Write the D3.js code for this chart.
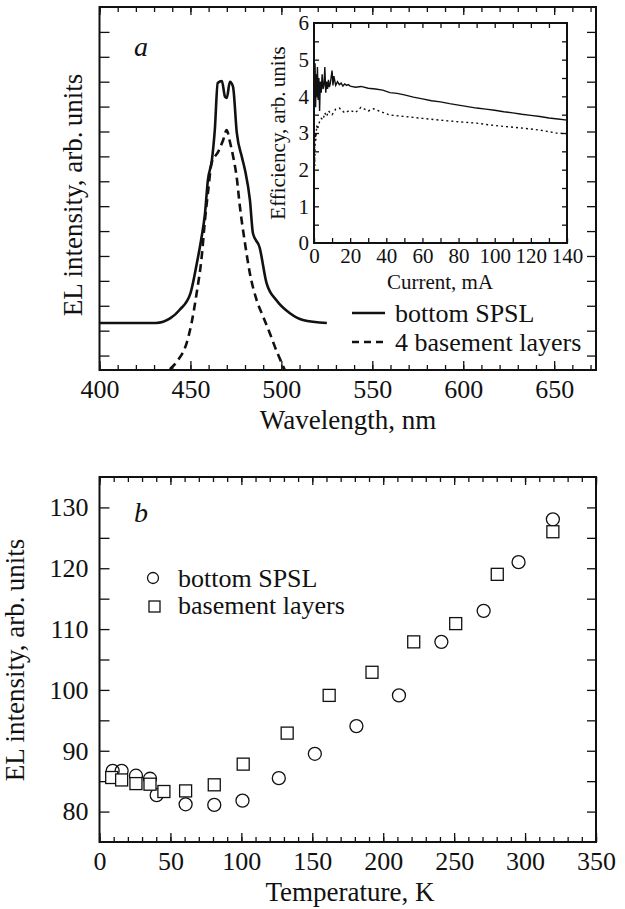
<!DOCTYPE html>
<html>
<head>
<meta charset="utf-8">
<script src="https://cdn.jsdelivr.net/npm/d3@7"></script>
<style>
  body { margin: 0; background: #fff; }
  svg text { font-family: "Liberation Serif", "Times New Roman", serif; fill: #111; }
  .tick line { stroke: #111; stroke-width: 1.3; }
</style>
</head>
<body>
<div id="vis"></div>
<script>
// ---- panel a: EL spectra ----
const wlSolid = [400, 431, 439, 444, 450, 453.5, 456, 458, 459.6, 461.8, 463.4, 465, 467.3, 469, 470, 471.7, 473.4, 475.5, 478.3, 480, 482.7, 484.4, 488, 491.9, 497.5, 504.7, 511.8, 525];
const elSolid = [1.31, 1.31, 1.5, 1.83, 2.5, 3.7, 4.7, 5.7, 7.05, 7.85, 9.06, 10.95, 11.03, 10.4, 10.35, 11.0, 10.8, 8.94, 7.97, 7.45, 6.25, 4.9, 4.35, 2.9, 2.2, 1.7, 1.43, 1.31];
const wlDash = [438.7, 443, 447.9, 450.6, 453.4, 456.2, 458, 459.8, 461.6, 465.3, 468, 469.9, 471.7, 473.5, 475.4, 477.2, 480, 482.7, 486.4, 490, 493.7, 496.4, 501.9];
const elDash = [-0.55, -0.2, 0.5, 1.3, 2.5, 3.97, 5.45, 6.65, 7.72, 8.19, 8.66, 9.06, 8.59, 7.99, 7.18, 5.98, 4.51, 3.3, 2.23, 1.56, 0.89, 0.36, -0.58];
const wlTicks = [400, 450, 500, 550, 600, 650];

// ---- inset: efficiency vs current ----
const curSolid = [0.3, 0.6, 0.9, 1.2, 1.5, 1.9, 2.3, 2.7, 3.1, 3.5, 4.0, 4.5, 5.0, 5.5, 6.0, 6.5, 7.0, 7.5, 8.0, 8.5, 9.0, 10, 10.5, 11, 12, 13, 14, 15, 16, 17, 18, 19, 20, 23, 26, 30, 34, 38, 42, 46, 50, 55, 60, 65, 70, 75, 80, 85, 90, 95, 100, 105, 110, 115, 120, 125, 130, 135, 140];
const effSolid = [4.2, 4.9, 3.7, 4.6, 4.0, 4.8, 3.9, 4.5, 3.6, 4.4, 4.1, 4.6, 4.2, 4.3, 4.8, 4.1, 4.4, 4.2, 4.45, 4.25, 4.35, 4.7, 4.3, 4.55, 4.3, 4.4, 4.32, 4.36, 4.28, 4.34, 4.3, 4.32, 4.28, 4.25, 4.27, 4.22, 4.2, 4.17, 4.1, 4.08, 4.04, 3.98, 3.93, 3.88, 3.85, 3.8, 3.76, 3.72, 3.68, 3.65, 3.62, 3.58, 3.55, 3.51, 3.48, 3.45, 3.41, 3.38, 3.35];
const curDash = [0.3, 0.5, 0.8, 1.0, 1.5, 2.0, 3.0, 4.0, 5.0, 6.0, 7.0, 8.0, 10, 12, 14, 17, 20, 23, 26, 30, 33, 36, 42, 50, 60, 70, 79, 90, 97, 105, 116, 125, 134, 140];
const effDash = [2.1, 2.6, 3.0, 2.8, 3.2, 3.1, 3.3, 3.4, 3.36, 3.55, 3.45, 3.6, 3.5, 3.65, 3.68, 3.55, 3.62, 3.56, 3.7, 3.6, 3.66, 3.6, 3.49, 3.45, 3.4, 3.35, 3.31, 3.27, 3.22, 3.18, 3.13, 3.08, 3.0, 2.98];

// ---- panel b: EL intensity vs temperature ----
const tSpsl = [9.3, 15.6, 25.7, 35.6, 40.3, 60.7, 80.9, 100.8, 126.4, 151.8, 181.1, 211.1, 241, 270.8, 295.4, 319.6];
const iSpsl = [86.7, 86.7, 85.9, 85.4, 82.7, 81.2, 81.1, 81.8, 85.5, 89.5, 94.05, 99.1, 107.9, 113.0, 121.0, 128.05];
const tBase = [8.6, 15.6, 25.7, 35.6, 45.4, 60.7, 80.9, 101.3, 132.3, 161.9, 192.1, 221.5, 251.1, 280.4, 319.6];
const iBase = [85.6, 85.2, 84.6, 84.5, 83.3, 83.4, 84.4, 87.8, 92.9, 99.1, 102.9, 107.9, 110.9, 119.0, 126.0];
const tTicks = [0, 50, 100, 150, 200, 250, 300, 350];
const iTicks = [80, 90, 100, 110, 120, 130];

const FONT = "'Liberation Serif', 'Times New Roman', serif";

const svg = d3.select("#vis").append("svg")
    .attr("width", 625)
    .attr("height", 909)
    .attr("font-family", FONT);

function frame(x0, y0, x1, y1) {
  svg.append("rect")
    .attr("x", x0).attr("y", y0)
    .attr("width", x1 - x0).attr("height", y1 - y0)
    .attr("fill", "none").attr("stroke", "#111").attr("stroke-width", 2);
}

function cleanAxis(g, fs) {
  g.attr("font-family", FONT).attr("font-size", fs);
  g.select(".domain").remove();
  g.selectAll("text").style("font-family", FONT).style("font-size", fs + "px");
}

// ===== panel a =====
const xa = d3.scaleLinear().domain([400, 673]).range([99.5, 596]);
const ya = d3.scaleLinear().domain([-0.58, 14]).range([370, 7]);

svg.append("g").attr("transform", "translate(0,370)")
  .call(d3.axisBottom(xa).tickValues(d3.range(400, 674, 10)).tickSize(-5).tickFormat(""))
  .call(g => cleanAxis(g, 26));
svg.append("g").attr("transform", "translate(0,370)")
  .call(d3.axisBottom(xa).tickValues(wlTicks).tickSizeInner(-9).tickSizeOuter(0).tickPadding(10))
  .call(g => cleanAxis(g, 26));
svg.append("g").attr("transform", "translate(0,7)")
  .call(d3.axisTop(xa).tickValues(d3.range(400, 674, 10)).tickSize(-5).tickFormat(""))
  .call(g => cleanAxis(g, 26));
svg.append("g").attr("transform", "translate(0,7)")
  .call(d3.axisTop(xa).tickValues(wlTicks).tickSize(-8).tickFormat(""))
  .call(g => cleanAxis(g, 26));
svg.append("g").attr("transform", "translate(99.5,0)")
  .call(d3.axisLeft(ya).tickValues(d3.range(0, 14)).tickSize(-10).tickFormat(""))
  .call(g => cleanAxis(g, 26));
svg.append("g").attr("transform", "translate(596,0)")
  .call(d3.axisRight(ya).tickValues(d3.range(0, 14)).tickSize(-9).tickFormat(""))
  .call(g => cleanAxis(g, 26));

svg.append("defs").append("clipPath").attr("id", "clipA")
  .append("rect").attr("x", 99.5).attr("y", 7).attr("width", 496.5).attr("height", 363);

const lineA = d3.line().x(d => xa(d[0])).y(d => ya(d[1])).curve(d3.curveMonotoneX);
svg.append("path")
  .datum(d3.zip(wlSolid, elSolid))
  .attr("d", lineA)
  .attr("fill", "none").attr("stroke", "#111").attr("stroke-width", 2.6);
svg.append("path")
  .datum(d3.zip(wlDash, elDash))
  .attr("clip-path", "url(#clipA)")
  .attr("d", lineA)
  .attr("fill", "none").attr("stroke", "#111").attr("stroke-width", 2.6)
  .attr("stroke-dasharray", "8,5");

frame(99.5, 7, 596, 370);

svg.append("text").attr("x", 134).attr("y", 56)
  .style("font-size", "28px").style("font-style", "italic").text("a");

svg.append("text")
  .attr("transform", "translate(82,195) rotate(-90)")
  .attr("text-anchor", "middle")
  .style("font-size", "27px")
  .text("EL intensity, arb.\u2009units");

svg.append("text").attr("x", 348).attr("y", 429)
  .attr("text-anchor", "middle").style("font-size", "27px")
  .text("Wavelength, nm");

// legend a
svg.append("line").attr("x1", 352).attr("x2", 385).attr("y1", 313).attr("y2", 313)
  .attr("stroke", "#111").attr("stroke-width", 2.6);
svg.append("line").attr("x1", 352).attr("x2", 385).attr("y1", 342).attr("y2", 342)
  .attr("stroke", "#111").attr("stroke-width", 2.6).attr("stroke-dasharray", "7,5");
svg.append("text").attr("x", 395).attr("y", 322).style("font-size", "26px").text("bottom SPSL");
svg.append("text").attr("x", 395).attr("y", 351).style("font-size", "26px").text("4 basement layers");

// ===== inset =====
const xi = d3.scaleLinear().domain([0, 140]).range([314, 567]);
const yi = d3.scaleLinear().domain([0, 6]).range([243, 23]);

svg.append("rect").attr("x", 314).attr("y", 23).attr("width", 253).attr("height", 220).attr("fill", "#fff");

svg.append("g").attr("transform", "translate(0,243)")
  .call(d3.axisBottom(xi).tickValues(d3.range(0, 141, 10)).tickSizeInner(-5).tickSizeOuter(0).tickFormat(""))
  .call(g => cleanAxis(g, 21));
svg.append("g").attr("transform", "translate(0,243)")
  .call(d3.axisBottom(xi).tickValues(d3.range(0, 141, 20)).tickSizeInner(0).tickSizeOuter(0).tickPadding(5))
  .call(g => cleanAxis(g, 21));
svg.append("g").attr("transform", "translate(0,23)")
  .call(d3.axisTop(xi).tickValues(d3.range(10, 140, 10)).tickSize(-5).tickFormat(""))
  .call(g => cleanAxis(g, 21));
svg.append("g").attr("transform", "translate(314,0)")
  .call(d3.axisLeft(yi).tickValues(d3.range(0.5, 6, 0.5)).tickSize(-5).tickFormat(""))
  .call(g => cleanAxis(g, 21));
svg.append("g").attr("transform", "translate(314,0)")
  .call(d3.axisLeft(yi).tickValues(d3.range(0, 7, 1)).tickSize(0).tickPadding(5).tickFormat(d3.format("d")))
  .call(g => cleanAxis(g, 21));
svg.append("g").attr("transform", "translate(567,0)")
  .call(d3.axisRight(yi).tickValues(d3.range(0.5, 6, 0.5)).tickSize(-5).tickFormat(""))
  .call(g => cleanAxis(g, 21));

const lineI = d3.line().x(d => xi(d[0])).y(d => yi(d[1]));
svg.append("path")
  .datum(d3.zip(curSolid, effSolid))
  .attr("d", lineI)
  .attr("fill", "none").attr("stroke", "#111").attr("stroke-width", 1.4);
svg.append("path")
  .datum(d3.zip(curDash, effDash))
  .attr("d", lineI)
  .attr("fill", "none").attr("stroke", "#111").attr("stroke-width", 1.4)
  .attr("stroke-dasharray", "2,3");
svg.append("line").attr("x1", xi(0.3)).attr("x2", xi(0.3)).attr("y1", yi(2.1)).attr("y2", yi(3.0))
  .attr("stroke", "#111").attr("stroke-width", 1.5).attr("stroke-dasharray", "2,1.5");

frame(314, 23, 567, 243);

svg.append("text")
  .attr("transform", "translate(285,133) rotate(-90)")
  .attr("text-anchor", "middle").style("font-size", "21px")
  .text("Efficiency, arb.\u2009units");
svg.append("text").attr("x", 440).attr("y", 289)
  .attr("text-anchor", "middle").style("font-size", "21px")
  .text("Current, mA");

// ===== panel b =====
const xb = d3.scaleLinear().domain([0, 350]).range([99.5, 596]);
const yb = d3.scaleLinear().domain([75, 135]).range([842, 477]);

svg.append("g").attr("transform", "translate(0,842)")
  .call(d3.axisBottom(xb).tickValues(d3.range(0, 351, 10)).tickSize(-5).tickFormat(""))
  .call(g => cleanAxis(g, 26));
svg.append("g").attr("transform", "translate(0,842)")
  .call(d3.axisBottom(xb).tickValues(tTicks).tickSizeInner(-9).tickSizeOuter(0).tickPadding(10))
  .call(g => cleanAxis(g, 26));
svg.append("g").attr("transform", "translate(0,477)")
  .call(d3.axisTop(xb).tickValues(d3.range(0, 351, 10)).tickSize(-5).tickFormat(""))
  .call(g => cleanAxis(g, 26));
svg.append("g").attr("transform", "translate(0,477)")
  .call(d3.axisTop(xb).tickValues(tTicks).tickSize(-8).tickFormat(""))
  .call(g => cleanAxis(g, 26));
svg.append("g").attr("transform", "translate(99.5,0)")
  .call(d3.axisLeft(yb).tickValues(d3.range(80, 135, 5)).tickSize(-10).tickFormat(""))
  .call(g => cleanAxis(g, 26));
svg.append("g").attr("transform", "translate(99.5,0)")
  .call(d3.axisLeft(yb).tickValues(iTicks).tickSize(0).tickPadding(11))
  .call(g => cleanAxis(g, 26));
svg.append("g").attr("transform", "translate(596,0)")
  .call(d3.axisRight(yb).tickValues(d3.range(80, 135, 5)).tickSize(-9).tickFormat(""))
  .call(g => cleanAxis(g, 26));

svg.append("g").selectAll("circle")
  .data(d3.zip(tSpsl, iSpsl))
  .enter().append("circle")
  .attr("cx", d => xb(d[0])).attr("cy", d => yb(d[1])).attr("r", 6.5)
  .attr("fill", "none").attr("stroke", "#111").attr("stroke-width", 1.3);
svg.append("g").selectAll("rect")
  .data(d3.zip(tBase, iBase))
  .enter().append("rect")
  .attr("x", d => xb(d[0]) - 6).attr("y", d => yb(d[1]) - 6)
  .attr("width", 12).attr("height", 12)
  .attr("fill", "#fff").attr("stroke", "#111").attr("stroke-width", 1.3);

frame(99.5, 477, 596, 842);

svg.append("text").attr("x", 134).attr("y", 522)
  .style("font-size", "28px").style("font-style", "italic").text("b");

svg.append("text")
  .attr("transform", "translate(24,660) rotate(-90)")
  .attr("text-anchor", "middle").style("font-size", "27px")
  .text("EL intensity, arb.\u2009units");
svg.append("text").attr("x", 350).attr("y", 901)
  .attr("text-anchor", "middle").style("font-size", "27px")
  .text("Temperature, K");

// legend b
svg.append("circle").attr("cx", 153).attr("cy", 578).attr("r", 5.5)
  .attr("fill", "none").attr("stroke", "#111").attr("stroke-width", 1.3);
svg.append("rect").attr("x", 149).attr("y", 601).attr("width", 11).attr("height", 11)
  .attr("fill", "none").attr("stroke", "#111").attr("stroke-width", 1.3);
svg.append("text").attr("x", 178).attr("y", 587).style("font-size", "26px").text("bottom SPSL");
svg.append("text").attr("x", 178).attr("y", 614).style("font-size", "26px").text("basement layers");
</script>
</body>
</html>
